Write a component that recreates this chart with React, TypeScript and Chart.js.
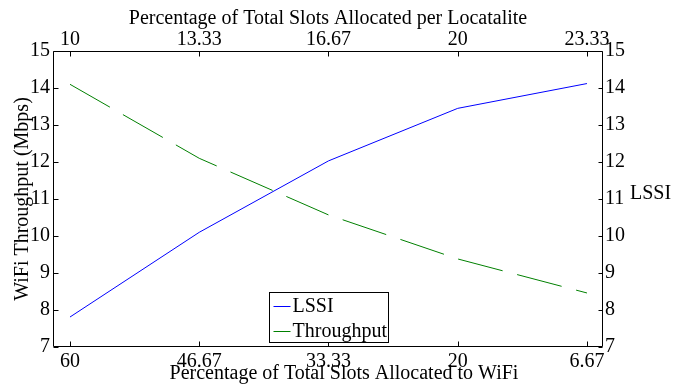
import React, { useEffect, useRef } from "react";
import { Chart, registerables } from "chart.js";

Chart.register(...registerables);

const bottomLabels = ["60", "46.67", "33.33", "20", "6.67"];
const topLabels = ["10", "13.33", "16.67", "20", "23.33"];
const lssiValues = [7.81, 10.1, 12.03, 13.45, 14.12];
const throughputValues = [14.1, 12.1, 10.57, 9.38, 8.46];
const seriesNames = ["LSSI", "Throughput"];
const seriesColors = ["#0000ff", "#008000"];
const bottomTitle = "Percentage of Total Slots Allocated to WiFi";
const topTitle = "Percentage of Total Slots Allocated per Locatalite";
const leftTitle = "WiFi Throughput (Mbps)";
const yMin = 7;
const yMax = 15;

const FONT = '"Liberation Serif", "Times New Roman", Times, serif';
const FS = 20;

const framePlugin = {
  id: "frame",
  afterDraw(chart: any) {
    const { ctx, chartArea: a, scales } = chart;
    ctx.save();
    ctx.strokeStyle = "#000";
    ctx.lineWidth = 1;
    const L = Math.round(a.left) + 0.5;
    const R = Math.round(a.right) - 0.5;
    const T = Math.round(a.top) + 0.5;
    const B = Math.round(a.bottom) - 0.5;
    ctx.beginPath();
    ctx.rect(L, T, R - L, B - T);
    const tl = 5;
    scales.x.ticks.forEach((t: any) => {
      const px = Math.round(scales.x.getPixelForValue(t.value)) + 0.5;
      ctx.moveTo(px, B);
      ctx.lineTo(px, B - tl);
      ctx.moveTo(px, T);
      ctx.lineTo(px, T + tl);
    });
    scales.y.ticks.forEach((t: any) => {
      const py = Math.round(scales.y.getPixelForValue(t.value)) + 0.5;
      ctx.moveTo(L, py);
      ctx.lineTo(L + tl, py);
    });
    scales.y2.ticks.forEach((t: any) => {
      const py = Math.round(scales.y2.getPixelForValue(t.value)) + 0.5;
      ctx.moveTo(R, py);
      ctx.lineTo(R - 4, py);
    });
    ctx.stroke();

    ctx.fillStyle = "#000";
    ctx.font = `${FS}px ${FONT}`;
    ctx.textAlign = "left";
    ctx.textBaseline = "middle";
    ctx.fillText(seriesNames[0], a.right + 27, (a.top + a.bottom) / 2 - 5);

    // bottom axis title
    ctx.textAlign = "center";
    ctx.fillText(bottomTitle, (a.left + a.right) / 2 + 16, chart.height - 12);

    // legend box
    ctx.textAlign = "left";
    const w = 119;
    const h = 50;
    const lx = Math.round((a.left + a.right) / 2 - w / 2) + 0.5;
    const ly = Math.round(a.bottom - 5 - h) + 0.5;
    ctx.fillStyle = "#fff";
    ctx.fillRect(lx, ly, w, h);
    ctx.strokeStyle = "#000";
    ctx.strokeRect(lx, ly, w, h);
    chart.data.datasets.forEach((ds: any, i: number) => {
      const yy = ly + 13 + i * 25;
      ctx.strokeStyle = ds.borderColor;
      ctx.setLineDash([]);
      ctx.beginPath();
      ctx.moveTo(lx + 4, Math.round(yy) + 0.5);
      ctx.lineTo(lx + 21, Math.round(yy) + 0.5);
      ctx.stroke();
      ctx.fillStyle = "#000";
      ctx.fillText(ds.label, lx + 23, yy + 1);
    });
    ctx.restore();
  },
};

export default function App() {
  const ref = useRef<HTMLCanvasElement | null>(null);

  useEffect(() => {
    if (!ref.current) return;
    const tickFont = { family: FONT, size: FS };
    const idx = [0, 1, 2, 3, 4];
    const fixTicks = (scale: any) => {
      scale.ticks = idx.map((v) => ({ value: v }));
    };
    const chart = new Chart(ref.current, {
      type: "line",
      data: {
        datasets: [
          {
            label: seriesNames[0],
            data: lssiValues.map((v, i) => ({ x: i, y: v })),
            borderColor: seriesColors[0],
            backgroundColor: seriesColors[0],
            borderWidth: 1,
            pointRadius: 0,
            yAxisID: "y2",
            xAxisID: "x",
          },
          {
            label: seriesNames[1],
            data: throughputValues.map((v, i) => ({ x: i, y: v })),
            borderColor: seriesColors[1],
            backgroundColor: seriesColors[1],
            borderWidth: 1,
            borderDash: [46, 15],
            pointRadius: 0,
            yAxisID: "y",
            xAxisID: "x",
          },
        ],
      },
      options: {
        responsive: false,
        animation: false,
        devicePixelRatio: 1,
        layout: { padding: 0 },
        plugins: { legend: { display: false }, tooltip: { enabled: false } },
        scales: {
          x: {
            type: "linear",
            position: "bottom",
            min: -0.1315,
            max: 4.124,
            afterBuildTicks: fixTicks,
            afterFit: (s: any) => {
              s.height = 39;
            },
            grid: { display: false, drawTicks: false },
            border: { display: false },
            ticks: {
              padding: 3,
              color: "#000",
              font: tickFont,
              maxRotation: 0,
              autoSkip: false,
              callback: (v: any) => bottomLabels[Math.round(Number(v))] ?? "",
            },
          },
          x2: {
            type: "linear",
            position: "top",
            min: -0.1315,
            max: 4.124,
            afterBuildTicks: fixTicks,
            afterFit: (s: any) => {
              s.height = 51;
            },
            grid: { display: false, drawTicks: false },
            border: { display: false },
            ticks: {
              padding: -1,
              color: "#000",
              font: tickFont,
              maxRotation: 0,
              autoSkip: false,
              callback: (v: any) => topLabels[Math.round(Number(v))] ?? "",
            },
            title: {
              display: true,
              text: topTitle,
              color: "#000",
              font: tickFont,
              padding: { top: 7, bottom: 0 },
            },
          },
          y: {
            type: "linear",
            position: "left",
            min: yMin,
            max: yMax,
            afterFit: (s: any) => {
              s.width = 53;
            },
            grid: { display: false, drawTicks: false },
            border: { display: false },
            ticks: { stepSize: 1, padding: 3, color: "#000", font: tickFont },
            title: {
              display: true,
              text: leftTitle,
              color: "#000",
              font: tickFont,
              padding: { top: 11, bottom: 0 },
            },
          },
          y2: {
            type: "linear",
            position: "right",
            min: yMin,
            max: yMax,
            afterFit: (s: any) => {
              s.width = 84;
            },
            grid: { display: false, drawTicks: false },
            border: { display: false },
            ticks: { stepSize: 1, padding: 2, color: "#000", font: tickFont },
          },
        },
      },
      plugins: [framePlugin],
    } as any);
    return () => chart.destroy();
  }, []);

  return (
    <div style={{ position: "absolute", left: 0, top: 0, width: 687, height: 386, background: "#fff" }}>
      <canvas ref={ref} width={687} height={386} style={{ display: "block" }} />
    </div>
  );
}
